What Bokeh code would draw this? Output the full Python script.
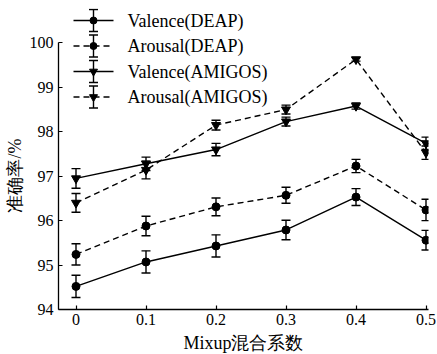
from bokeh.plotting import figure
from bokeh.models import (ColumnDataSource, Whisker, TeeHead, Range1d,
                          FixedTicker, Title)
from bokeh.core.properties import value
from bokeh.embed import file_html
from bokeh.resources import INLINE

# ---------------- data ----------------
mixup = [0, 0.1, 0.2, 0.3, 0.4, 0.5]
tick_labels = ["0", "0.1", "0.2", "0.3", "0.4", "0.5"]
y_ticks = [94, 95, 96, 97, 98, 99, 100]

valence_deap = [94.52, 95.07, 95.43, 95.79, 96.53, 95.56]
valence_deap_err = [0.25, 0.25, 0.25, 0.22, 0.19, 0.22]
arousal_deap = [95.24, 95.88, 96.31, 96.57, 97.23, 96.24]
arousal_deap_err = [0.24, 0.22, 0.20, 0.18, 0.15, 0.24]
valence_amigos = [96.95, 97.28, 97.60, 98.23, 98.58, 97.74]
valence_amigos_err = [0.22, 0.15, 0.14, 0.10, 0.07, 0.14]
arousal_amigos = [96.40, 97.14, 98.15, 98.50, 99.63, 97.53]
arousal_amigos_err = [0.21, 0.20, 0.11, 0.10, 0.04, 0.15]

series_names = ["Valence(DEAP)", "Arousal(DEAP)", "Valence(AMIGOS)", "Arousal(AMIGOS)"]
series_vals = [valence_deap, arousal_deap, valence_amigos, arousal_amigos]
series_errs = [valence_deap_err, arousal_deap_err, valence_amigos_err, arousal_amigos_err]
series_dash = ["solid", "6 4", "solid", "6 4"]
series_marker = ["circle", "circle", "inverted_triangle", "inverted_triangle"]
series_msize = [8, 8, 9, 9]

x_label = "Mixup混合系数"
y_label = "准确率/%"

# ---------------- layout ----------------
FW, FH = 370, 301
PX_PER_X = 700.0
PX_PER_Y = 44.43
x0 = -0.025
y0 = 94

SERIF = "Liberation Serif"

p = figure(frame_width=FW, frame_height=FH,
           x_range=Range1d(x0, x0 + FW / PX_PER_X),
           y_range=Range1d(y0, y0 + FH / PX_PER_Y),
           output_backend="svg", toolbar_location=None,
           min_border_left=58, min_border_right=9, min_border_top=8,
           min_border_bottom=20)
p.outline_line_color = None
p.grid.visible = False
p.background_fill_color = "white"

# axes
p.xaxis.ticker = FixedTicker(ticks=mixup)
p.xaxis.major_label_overrides = {t: l for t, l in zip(mixup, tick_labels)}
p.yaxis.ticker = FixedTicker(ticks=y_ticks)
p.yaxis.bounds = (y_ticks[0], y_ticks[-1])
for ax in (p.xaxis[0], p.yaxis[0]):
    ax.axis_line_color = "black"
    ax.axis_line_width = 1.3
    ax.major_tick_line_color = "black"
    ax.major_tick_line_width = 1.2
    ax.major_tick_in = 4
    ax.major_tick_out = 0
    ax.minor_tick_line_color = None
    ax.major_label_text_font = SERIF
    ax.major_label_text_font_size = "16px"
    ax.major_label_text_color = "black"
    ax.axis_label_text_font = SERIF
    ax.axis_label_text_font_style = "normal"
    ax.axis_label_text_color = "black"
p.xaxis.axis_label_text_font_size = "18px"
p.xaxis.axis_label = x_label
p.xaxis.major_label_standoff = 4
p.yaxis.major_label_standoff = 5
p.xaxis.axis_label_standoff = 5

# y-axis title as a left-side Title, its bottom end ~97px above the frame bottom
p.add_layout(Title(text=y_label, align="left", offset=97, standoff=4,
                   text_font=SERIF, text_font_size="18px",
                   text_font_style="normal", text_color="black"), "left")

# series
for name, vals, errs, dash, mk, ms in zip(series_names, series_vals, series_errs,
                                          series_dash, series_marker, series_msize):
    src = ColumnDataSource(dict(
        x=mixup, y=vals,
        upper=[v + e for v, e in zip(vals, errs)],
        lower=[v - e for v, e in zip(vals, errs)]))
    p.line("x", "y", source=src, line_color="black", line_width=1.4, line_dash=dash)
    p.add_layout(Whisker(base="x", upper="upper", lower="lower", source=src,
                         line_color="black", line_width=1.4,
                         upper_head=TeeHead(size=9, line_color="black", line_width=1.4),
                         lower_head=TeeHead(size=9, line_color="black", line_width=1.4)))
    p.scatter("x", "y", source=src, marker=mk, size=ms,
              fill_color="black", line_color="black")

# ---------------- legend (drawn in frame pixel space) ----------------
p.extra_x_ranges = {"lx": Range1d(0, FW)}
p.extra_y_ranges = {"ly": Range1d(0, FH)}
LEG_TOP = 12.0      # px below frame top of first row
LEG_STEP = 25.5
LEG_X0, LEG_X1 = 15.0, 55.0
LEG_TX = 69.0
BAR_H = 11.0
CAP_W = 4.5

for i, (name, dash, mk) in enumerate(zip(series_names, series_dash, series_marker)):
    cy = FH - (LEG_TOP + i * LEG_STEP)
    cx = (LEG_X0 + LEG_X1) / 2
    p.segment(x0=[LEG_X0], y0=[cy], x1=[LEG_X1], y1=[cy],
              x_range_name="lx", y_range_name="ly",
              line_color="black", line_width=1.4, line_dash=dash)
    p.segment(x0=[cx, cx - CAP_W, cx - CAP_W], y0=[cy - BAR_H, cy + BAR_H, cy - BAR_H],
              x1=[cx, cx + CAP_W, cx + CAP_W], y1=[cy + BAR_H, cy + BAR_H, cy - BAR_H],
              x_range_name="lx", y_range_name="ly",
              line_color="black", line_width=1.4)
    p.scatter(x=[cx], y=[cy], marker=mk, size=7 if mk == "circle" else 8,
              x_range_name="lx", y_range_name="ly",
              fill_color="black", line_color="black")
    p.text(x=[LEG_TX], y=[cy], text=[name], x_range_name="lx", y_range_name="ly",
           text_font=value(SERIF), text_font_size="18px", text_color="black",
           text_baseline="middle", text_align="left")

open("out.html", "w").write(file_html(p, INLINE))
